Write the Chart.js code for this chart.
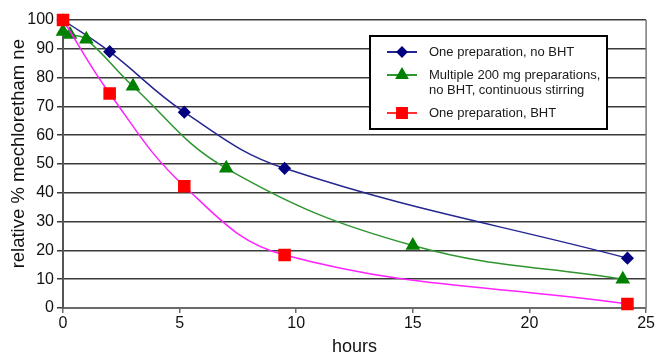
<!DOCTYPE html>
<html>
<head>
<meta charset="utf-8">
<script src="https://cdn.jsdelivr.net/npm/chart.js@4.4.1/dist/chart.umd.min.js"></script>
<style>
  html, body { margin: 0; padding: 0; background: #fff; }
  #chart { display: block; }
</style>
</head>
<body>
<canvas id="chart" width="656" height="355"></canvas>
<script>
// data
const noBhtHours = [0, 2, 5.2, 9.5, 24.2];
const noBhtValues = [100, 89, 68, 48.5, 17.3];

const multiHours = [0, 0.3, 1, 3, 7, 15, 24];
const multiValues = [96, 95, 93.3, 77, 48.5, 21.7, 10];

const bhtHours = [0, 2, 5.2, 9.5, 24.2];
const bhtValues = [100, 74.5, 42.3, 18.4, 1.4];

const seriesLabels = [
    'One preparation, no BHT',
    ['Multiple 200 mg preparations,', 'no BHT, continuous stirring'],
    'One preparation, BHT'
];

const xTicks = [0, 5, 10, 15, 20, 25];
const yTicks = [0, 10, 20, 30, 40, 50, 60, 70, 80, 90, 100];

const FONT = "'Liberation Sans', Arial, sans-serif";

const toPoints = (xs, ys) => xs.map((x, i) => ({ x: x, y: ys[i] }));

// white page behind the chart and a frame on the right
const framePlugin = {
    id: 'frame',
    beforeDraw(chart) {
        const ctx = chart.ctx;
        ctx.save();
        ctx.fillStyle = '#fff';
        ctx.fillRect(0, 0, chart.width, chart.height);
        ctx.restore();
    },
    beforeDatasetsDraw(chart) {
        const { ctx, chartArea } = chart;
        ctx.save();
        ctx.strokeStyle = '#7a7a7a';
        ctx.lineWidth = 1.5;
        ctx.beginPath();
        ctx.moveTo(chartArea.right, chartArea.top);
        ctx.lineTo(chartArea.right, chartArea.bottom);
        ctx.stroke();
        ctx.restore();
    }
};

// boxed legend with a two line entry, drawn inside the plot
const boxLegend = {
    id: 'boxLegend',
    afterDraw(chart) {
        const ctx = chart.ctx;
        const left = 370, top = 36, width = 237, height = 93;
        ctx.save();
        ctx.fillStyle = '#fff';
        ctx.fillRect(left, top, width, height);
        ctx.strokeStyle = '#000';
        ctx.lineWidth = 2;
        ctx.strokeRect(left, top, width, height);

        ctx.font = '13px ' + FONT;
        ctx.textBaseline = 'middle';
        ctx.textAlign = 'left';

        let y = top + 16;
        chart.data.datasets.forEach(ds => {
            const lines = Array.isArray(ds.label) ? ds.label : [ds.label];
            const color = ds.legendLine || ds.borderColor;
            ctx.strokeStyle = color;
            ctx.lineWidth = 2;
            ctx.beginPath();
            ctx.moveTo(left + 17, y);
            ctx.lineTo(left + 47, y);
            ctx.stroke();
            ctx.fillStyle = ds.pointBackgroundColor;
            ctx.strokeStyle = ds.pointBorderColor;
            Chart.helpers.drawPoint(ctx, {
                pointStyle: ds.pointStyle,
                radius: ds.legendRadius,
                rotation: 0,
                borderWidth: 1
            }, left + 32, y);
            ctx.fillStyle = '#1a1a1a';
            lines.forEach((line, i) => {
                ctx.fillText(line, left + 59, y + i * 15);
            });
            y += 23 + (lines.length - 1) * 15;
        });
        ctx.restore();
    }
};

new Chart(document.getElementById('chart'), {
    type: 'line',
    data: {
        datasets: [
            {
                label: seriesLabels[0],
                data: toPoints(noBhtHours, noBhtValues),
                borderColor: '#262690',
                borderWidth: 1.5,
                pointStyle: 'rectRot',
                pointRadius: 5.5,
                legendRadius: 4.5,
                pointBackgroundColor: '#000080',
                pointBorderColor: '#000080',
                tension: 0.4,
                clip: false,
                order: 2
            },
            {
                label: seriesLabels[1],
                data: toPoints(multiHours, multiValues),
                borderColor: '#2f962f',
                borderWidth: 1.5,
                pointStyle: 'triangle',
                pointRadius: 7,
                legendRadius: 6,
                pointBackgroundColor: '#008000',
                pointBorderColor: '#008000',
                tension: 0.4,
                clip: false,
                order: 1
            },
            {
                label: seriesLabels[2],
                data: toPoints(bhtHours, bhtValues),
                borderColor: '#ff22ff',
                legendLine: '#ff3030',
                borderWidth: 1.5,
                pointStyle: 'rect',
                pointRadius: 7.8,
                legendRadius: 7,
                pointBackgroundColor: '#ff0000',
                pointBorderColor: '#ff0000',
                tension: 0.4,
                clip: false,
                order: 0
            }
        ]
    },
    options: {
        responsive: false,
        animation: false,
        devicePixelRatio: 1,
        layout: { padding: { top: 20, right: 8, left: 0, bottom: 0 } },
        plugins: {
            legend: { display: false },
            tooltip: { enabled: false }
        },
        scales: {
            x: {
                type: 'linear',
                min: 0,
                max: 25,
                afterBuildTicks: scale => { scale.ticks = xTicks.map(v => ({ value: v })); },
                afterFit: scale => { scale.height = 47; },
                border: { display: true, color: '#6a6a6a', width: 2 },
                grid: { drawOnChartArea: false, drawTicks: true, tickLength: 5, color: '#6a6a6a', lineWidth: 1.5 },
                ticks: { color: '#111', font: { family: FONT, size: 16 }, padding: 1, maxRotation: 0 },
                title: {
                    display: true,
                    text: 'hours',
                    color: '#111',
                    font: { family: FONT, size: 18 },
                    padding: { top: 0, bottom: -2.5 }
                }
            },
            y: {
                min: 0,
                max: 100,
                afterBuildTicks: scale => { scale.ticks = yTicks.map(v => ({ value: v })); },
                afterFit: scale => { scale.width = 63; },
                border: { display: true, color: '#555', width: 2 },
                grid: { color: '#3a3a3a', lineWidth: 1.5, drawTicks: true, tickLength: 6 },
                ticks: { color: '#111', font: { family: FONT, size: 16 }, padding: 3 },
                title: {
                    display: true,
                    // leading spaces nudge the centred title up a little, as in the original
                    text: '\u00a0\u00a0\u00a0\u00a0relative % mechloretham ne',
                    color: '#111',
                    font: { family: FONT, size: 18.5 },
                    padding: { top: 7.5, bottom: 0 }
                }
            }
        }
    },
    plugins: [framePlugin, boxLegend]
});
</script>
</body>
</html>
